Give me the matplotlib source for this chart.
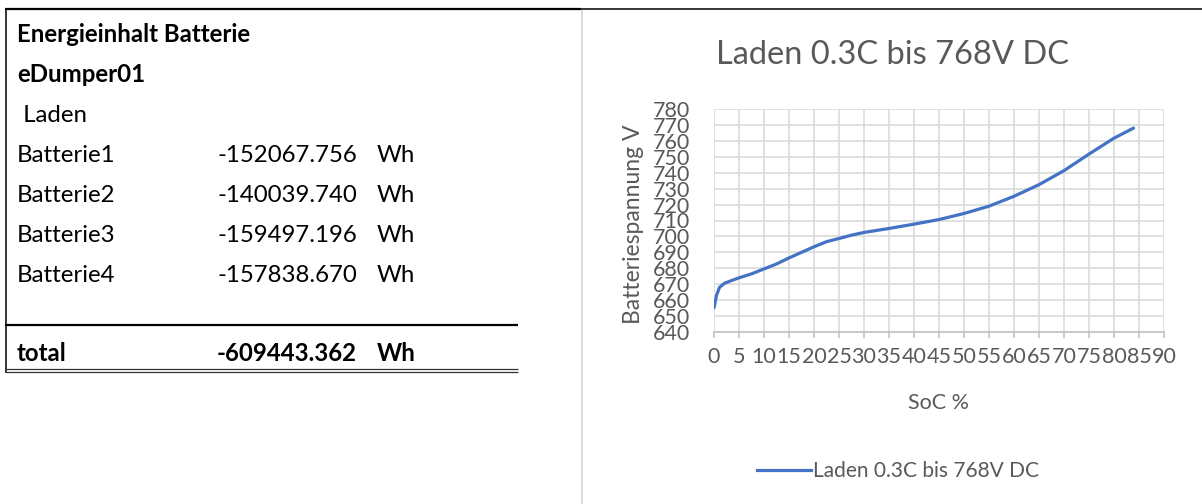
import matplotlib
matplotlib.use("Agg")
import matplotlib.pyplot as plt
from matplotlib.lines import Line2D

# charge curve: state of charge (%) vs. battery voltage (V)
soc = [0, 0.5, 1.1, 2.1, 3.5, 5, 7.5, 10, 12.5, 15, 17.5, 20, 22.5, 25, 27.5,
       30, 35, 40, 45, 50, 55, 60, 65, 70, 75, 80, 83.9]
voltage = [655.2, 663, 668, 670.6, 672.3, 674, 676.5, 679.6, 682.7, 686.5, 690,
           693.5, 696.7, 698.7, 700.8, 702.5, 705, 707.7, 710.6, 714.4, 719,
           725.2, 732.5, 741.3, 751.7, 761.7, 768]

# energy table
header_lines = ["Energieinhalt Batterie", "eDumper01"]
mode_label = " Laden"
battery_names = ["Batterie1", "Batterie2", "Batterie3", "Batterie4"]
battery_wh = [-152067.756, -140039.740, -159497.196, -157838.670]
total_wh = -609443.362
unit = "Wh"

series_name = "Laden 0.3C bis 768V DC"
x_ticks = list(range(0, 95, 5))
y_ticks = list(range(640, 790, 10))

W, H = 1202, 504
FONT = "Lato"
GRAY = "#595959"

fig = plt.figure(figsize=(W / 100, H / 100), dpi=100)
plt.rcParams["font.family"] = [FONT, "DejaVu Sans"]

# full-figure overlay in pixel units for the sheet part
sheet = fig.add_axes([0, 0, 1, 1])
sheet.set_xlim(0, W)
sheet.set_ylim(H, 0)
sheet.axis("off")

# cell borders
sheet.plot([5, 581], [8.5, 8.5], color="black", lw=1.6, solid_capstyle="butt")
sheet.plot([581, W], [8.5, 8.5], color="black", lw=1.1, solid_capstyle="butt")
sheet.plot([5.5, 5.5], [8, 372.5], color="black", lw=1.1, solid_capstyle="butt")
sheet.plot([5, 518], [324.5, 324.5], color="black", lw=1.6, solid_capstyle="butt")
sheet.plot([5, 518], [368.5, 368.5], color="#333333", lw=0.9, solid_capstyle="butt")
sheet.plot([5, 518], [372, 372], color="#333333", lw=0.9, solid_capstyle="butt")
# chart frame edge
sheet.plot([582, 582], [10, H], color="#d9d9d9", lw=1.4, solid_capstyle="butt")

fs_cell = 17.3
row_h = 40
base_y = 41.5
for i, txt in enumerate(header_lines):
    sheet.text(17, base_y + i * row_h, txt, fontsize=fs_cell, fontweight="bold",
               va="baseline", ha="left", color="black")
sheet.text(17, base_y + 2 * row_h, mode_label, fontsize=fs_cell,
           va="baseline", ha="left", color="black")
for i, (name, val) in enumerate(zip(battery_names, battery_wh)):
    y = base_y + (3 + i) * row_h + 0.5
    sheet.text(17, y, name, fontsize=fs_cell, va="baseline", ha="left")
    sheet.text(357, y, f"{val:.3f}", fontsize=fs_cell, va="baseline", ha="right")
    sheet.text(377, y, unit, fontsize=fs_cell, va="baseline", ha="left")
ty = 361
sheet.text(17, ty, "total", fontsize=fs_cell, fontweight="bold", va="baseline", ha="left")
sheet.text(357, ty, f"{total_wh:.3f}", fontsize=fs_cell, fontweight="bold",
           va="baseline", ha="right")
sheet.text(377, ty, unit, fontsize=fs_cell, fontweight="bold", va="baseline", ha="left")

# chart
left, right, top, bottom = 714, 1164, 109, 332
ax = fig.add_axes([left / W, 1 - bottom / H, (right - left) / W, (bottom - top) / H])
ax.plot(soc, voltage, color="#4472C4", lw=2.3, solid_capstyle="round",
        solid_joinstyle="round", label=series_name)
ax.set_xlim(0, 90)
ax.set_ylim(640, 780)
ax.set_xticks(x_ticks)
ax.set_yticks(y_ticks)
ax.grid(True, color="#d9d9d9", lw=1.1)
ax.set_axisbelow(True)
for s in ["top", "right", "left"]:
    ax.spines[s].set_visible(False)
ax.spines["bottom"].set_color("#bfbfbf")
ax.spines["bottom"].set_linewidth(1.1)
ax.tick_params(axis="x", length=4.5, width=1.1, color="#bfbfbf", pad=6,
               labelsize=15.5, labelcolor=GRAY)
ax.tick_params(axis="y", length=0, pad=17, labelsize=15.5, labelcolor=GRAY)

fig.text(893 / W, 1 - 55 / H, series_name, fontsize=23.5, color=GRAY,
         ha="center", va="center")
fig.text(633 / W, 1 - 224 / H, "Batteriespannung V", fontsize=16.5, color=GRAY,
         rotation=90, ha="center", va="center")
fig.text(939 / W, 1 - 403 / H, "SoC %", fontsize=15.5, color=GRAY,
         ha="center", va="center")

handle = Line2D([], [], color="#4472C4", lw=2.3)
fig.legend([handle], [series_name], loc="center", bbox_to_anchor=(898 / W, 1 - 471 / H),
           frameon=False, fontsize=15, handlelength=2.6, handletextpad=0.12,
           labelcolor=GRAY)

fig.savefig("out.png", dpi=100)
